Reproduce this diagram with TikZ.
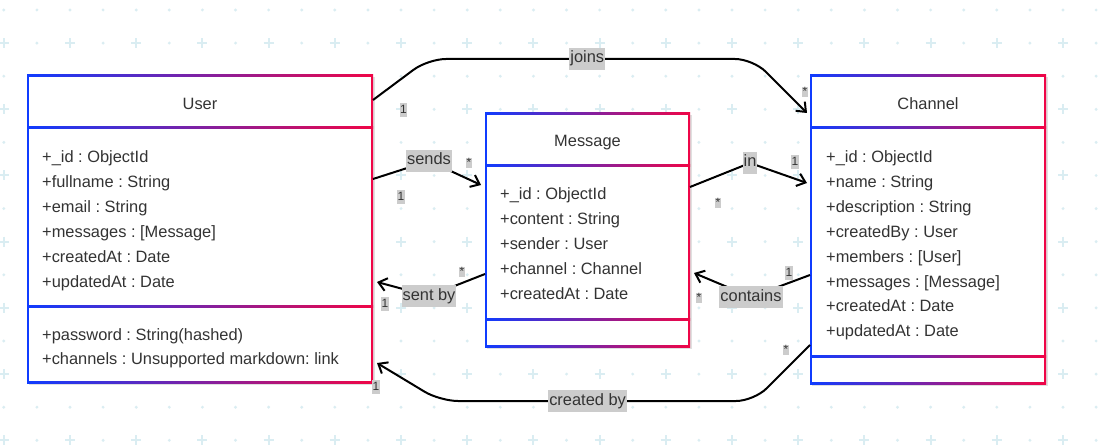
\documentclass[tikz,border=0pt]{standalone}
\usepackage{fontspec}
\setmainfont{Liberation Sans}
\frenchspacing
\usetikzlibrary{arrows.meta}

\definecolor{umlblue}{RGB}{15,60,255}
\definecolor{umlred}{RGB}{240,5,70}
\definecolor{gridc}{RGB}{218,237,242}
\definecolor{txt}{RGB}{51,51,51}
\definecolor{lblgrey}{RGB}{204,204,204}

\tikzset{
  classbox/.style={rectangle, inner sep=0pt, outer sep=0pt},
  classtitle/.style={anchor=base, inner sep=0pt, font=\fontsize{16.4}{19}\selectfont, text=txt},
  attr/.style={anchor=base west, inner sep=0pt, font=\fontsize{16.4}{19}\selectfont, text=txt},
  conn/.style={line width=2pt, -{Straight Barb[length=8pt,width=13pt,line width=2pt]}},
  lbl/.style={sharp corners, fill=lblgrey, inner xsep=1pt, inner ysep=3pt, text height=12pt, text depth=4pt, font=\fontsize{16.4}{19}\selectfont, text=txt},
  mult/.style={sharp corners, fill=lblgrey, inner xsep=0.6pt, inner ysep=1.5pt, text height=9pt, text depth=2pt, font=\fontsize{12}{14}\selectfont, text=txt},
  multstar/.style={mult, text height=7pt, text depth=0pt},
}

\newcommand{\classframe}[2]{%
  \fill[black, opacity=0.12] ([shift={(2pt,-2pt)}]#1.north west) rectangle ([shift={(2pt,-2pt)}]#1.south east);
  \shade[left color=umlblue, right color=umlred] (#1.north west) rectangle (#1.south east);
  \fill[white] ([shift={(2pt,-2pt)}]#1.north west) rectangle ([shift={(-2pt,2pt)}]#1.south east);
  \foreach \s in {#2}
    \shade[left color=umlblue, right color=umlred] ([yshift={-(\s-1)*1pt}]#1.north west) rectangle ([yshift={-(\s+1)*1pt}]#1.north east);
}

\begin{document}
\begin{tikzpicture}[x=1pt, y=-1pt]
\useasboundingbox (0,0) rectangle (1110,446);
\fill[white] (0,0) rectangle (1110,446);

% background grid
\foreach \i in {0,...,33}
  \foreach \j in {0,...,13}
    \fill[gridc] ({3.8+33.1*\i},{10+33.1*\j}) circle (1.6pt);
\foreach \i in {0,2,...,32}
  \foreach \j in {1,3,...,13}
    \draw[gridc, line width=2pt] ({3.8+33.1*\i-5},{10+33.1*\j}) -- ++(10,0) ({3.8+33.1*\i},{10+33.1*\j-5}) -- ++(0,10);

% classes
\node[classbox, minimum width=346pt, minimum height=308pt] (user) at (200,229) {};
\node[classbox, minimum width=205pt, minimum height=234pt] (msg) at (587.5,230) {};
\node[classbox, minimum width=236pt, minimum height=309pt] (chan) at (928,229.5) {};
\classframe{user}{53,231}
\classframe{msg}{53,206}
\classframe{chan}{53,281}

\node[classtitle] (user-title) at (200,110) {User};
\node[classtitle] (msg-title) at (587.5,147) {Message};
\node[classtitle] (chan-title) at (928,110) {Channel};

\foreach \t [count=\i from 0] in {{+\_id : ObjectId},{+fullname : String},{+email : String},{+messages : [Message]},{+createdAt : Date},{+updatedAt : Date}}
  \node[attr] (user-a\i) at (42,{163+24.8*\i}) {\t};
\foreach \t [count=\i from 0] in {{+password : String(hashed)},{+channels : Unsupported markdown: link}}
  \node[attr] (user-o\i) at (42,{340+24.8*\i}) {\t};
\foreach \t [count=\i from 0] in {{+\_id : ObjectId},{+content : String},{+sender : User},{+channel : Channel},{+createdAt : Date}}
  \node[attr] (msg-a\i) at (500,{200+24.8*\i}) {\t};
\foreach \t [count=\i from 0] in {{+\_id : ObjectId},{+name : String},{+description : String},{+createdBy : User},{+members : [User]},{+messages : [Message]},{+createdAt : Date},{+updatedAt : Date}}
  \node[attr] (chan-a\i) at (826,{163+24.8*\i}) {\t};

% relations
\draw[conn, rounded corners=18pt] ([yshift=-25pt]user.north east) -- (428,59) -- node[lbl, pos=0.49] (lbl-joins) {joins} (753,59) -- ([xshift=-3pt,yshift=-38pt]chan.north west);
\draw[conn] ([yshift=-104pt]user.north east) -- (429,161) node[lbl] (lbl-sends) {sends} -- ([xshift=-4pt,yshift=-72pt]msg.north west);
\draw[conn] ([yshift=-74pt]msg.north east) -- (750,163) node[lbl] (lbl-in) {in} -- ([xshift=-3pt,yshift=-108pt]chan.north west);
\draw[conn] ([yshift=-161pt]msg.north west) -- (429,296) node[lbl] (lbl-sentby) {sent by} -- ([xshift=4pt,yshift=-207pt]user.north east);
\draw[conn] ([yshift=-200pt]chan.north west) -- (751,297) node[lbl] (lbl-contains) {contains} -- ([xshift=4pt,yshift=-160pt]msg.north east);
\draw[conn, rounded corners=18pt] ([yshift=-270pt]chan.north west) -- (754,401) -- node[lbl, pos=0.53] (lbl-createdby) {created by} (440,401) -- ([xshift=4pt,yshift=-288pt]user.north east);

% multiplicities
\node[mult] (m-joins-u) at (403.5,110) {1};
\node[multstar] (m-joins-c) at (805,92) {*};
\node[mult] (m-sends-u) at (401,197) {1};
\node[multstar] (m-sends-m) at (469,163) {*};
\node[mult] (m-in-c) at (795,162) {1};
\node[multstar] (m-in-m) at (718,203) {*};
\node[multstar] (m-sentby-m) at (462,272) {*};
\node[mult] (m-sentby-u) at (385,304) {1};
\node[mult] (m-contains-c) at (789,273) {1};
\node[multstar] (m-contains-m) at (699,298) {*};
\node[multstar] (m-createdby-c) at (786,350) {*};
\node[mult] (m-createdby-u) at (376,387) {1};
\end{tikzpicture}
\end{document}
